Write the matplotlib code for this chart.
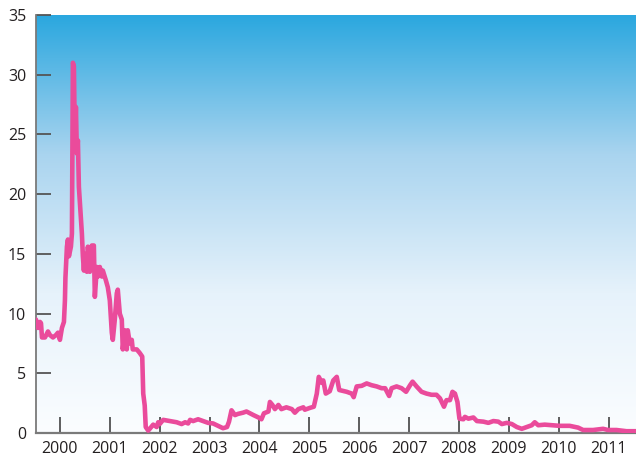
import numpy as np
import matplotlib
matplotlib.use("Agg")
import matplotlib.pyplot as plt
from matplotlib.colors import LinearSegmentedColormap

plt.rcParams['font.family'] = ['Open Sans', 'DejaVu Sans']

# decimal years and values
years = [1999.52, 1999.56, 1999.60, 1999.62, 1999.64, 1999.70, 1999.76, 1999.80, 1999.86, 1999.92,
         1999.96, 2000.00, 2000.04, 2000.08, 2000.10, 2000.11, 2000.12, 2000.14, 2000.16, 2000.18,
         2000.22, 2000.24, 2000.26, 2000.28, 2000.30, 2000.32, 2000.34, 2000.36, 2000.38, 2000.44,
         2000.46, 2000.48, 2000.50, 2000.54, 2000.56, 2000.60, 2000.64, 2000.68, 2000.70, 2000.74,
         2000.76, 2000.80, 2000.84, 2000.86, 2000.92, 2000.96, 2001.00, 2001.04, 2001.06, 2001.10,
         2001.14, 2001.16, 2001.20, 2001.24, 2001.26, 2001.30, 2001.34, 2001.36, 2001.40, 2001.44,
         2001.46, 2001.54, 2001.60, 2001.65, 2001.67, 2001.70, 2001.72, 2001.77, 2001.87, 2001.94,
         2001.97, 2002.00, 2002.07, 2002.21, 2002.34, 2002.44, 2002.51, 2002.57, 2002.61, 2002.67,
         2002.77, 2002.87, 2002.97, 2003.07, 2003.17, 2003.27, 2003.35, 2003.39, 2003.44, 2003.51,
         2003.57, 2003.67, 2003.74, 2003.88, 2003.98, 2004.04, 2004.09, 2004.18, 2004.21, 2004.26,
         2004.31, 2004.38, 2004.44, 2004.54, 2004.65, 2004.71, 2004.78, 2004.88, 2004.91, 2005.01,
         2005.09, 2005.15, 2005.19, 2005.25, 2005.28, 2005.33, 2005.41, 2005.48, 2005.55, 2005.60,
         2005.75, 2005.85, 2005.89, 2005.95, 2006.05, 2006.15, 2006.25, 2006.35, 2006.45, 2006.52,
         2006.60, 2006.65, 2006.75, 2006.85, 2006.94, 2007.02, 2007.07, 2007.15, 2007.25, 2007.35,
         2007.45, 2007.55, 2007.62, 2007.70, 2007.75, 2007.82, 2007.87, 2007.92, 2007.97, 2008.01,
         2008.09, 2008.12, 2008.19, 2008.29, 2008.36, 2008.49, 2008.59, 2008.69, 2008.79, 2008.86,
         2008.96, 2009.06, 2009.16, 2009.26, 2009.36, 2009.46, 2009.52, 2009.59, 2009.72, 2009.86,
         2010.02, 2010.22, 2010.39, 2010.49, 2010.69, 2010.89, 2010.99, 2011.16, 2011.36, 2011.55]

values = [9.5, 8.8, 9.3, 9.2, 8.0, 8.0, 8.5, 8.2, 8.0, 8.2,
          8.4, 7.8, 8.8, 9.3, 11.1, 13.0, 13.9, 15.6, 16.2, 14.8,
          15.6, 16.7, 31.0, 30.7, 24.0, 27.3, 23.4, 24.5, 20.6, 16.7,
          14.8, 13.6, 15.0, 13.5, 15.6, 13.5, 15.7, 15.7, 11.4, 13.9,
          13.1, 13.9, 13.1, 13.6, 12.8, 12.2, 11.1, 8.4, 7.8, 9.5,
          11.7, 12.0, 10.0, 9.5, 7.0, 8.6, 7.0, 8.6, 7.5, 7.8,
          7.0, 7.0, 6.7, 6.4, 3.3, 2.3, 0.5, 0.2, 0.7, 0.5,
          0.9, 0.75, 1.1, 1.0, 0.9, 0.75, 0.9, 0.8, 1.1, 1.0,
          1.15, 1.0, 0.85, 0.8, 0.6, 0.4, 0.5, 0.95, 1.9, 1.5,
          1.6, 1.7, 1.8, 1.5, 1.3, 1.15, 1.65, 1.8, 2.6, 2.35,
          2.0, 2.35, 2.0, 2.15, 2.0, 1.7, 2.0, 2.15, 1.95, 2.1,
          2.2, 3.3, 4.7, 4.2, 4.4, 3.3, 3.5, 4.4, 4.7, 3.6,
          3.45, 3.3, 3.0, 3.9, 3.95, 4.15, 4.0, 3.9, 3.75, 3.75,
          3.1, 3.75, 3.9, 3.75, 3.45, 4.0, 4.3, 3.9, 3.45, 3.3,
          3.2, 3.2, 2.9, 2.2, 2.75, 2.75, 3.45, 3.3, 2.6, 1.2,
          1.15, 1.35, 1.2, 1.3, 1.0, 0.95, 0.85, 1.0, 0.95, 0.75,
          0.85, 0.75, 0.5, 0.35, 0.5, 0.65, 0.9, 0.65, 0.7, 0.65,
          0.6, 0.6, 0.45, 0.25, 0.25, 0.35, 0.25, 0.25, 0.15, 0.15]

tick_years = list(range(2000, 2012))
tick_labels = [str(y) for y in tick_years]
y_ticks = [0, 5, 10, 15, 20, 25, 30, 35]

fig = plt.figure(figsize=(6.36, 4.61), dpi=100)
ax = fig.add_axes([36/636, 28/461, 600/636, 418/461])

# background gradient (white at bottom to sky blue at top)
cmap = LinearSegmentedColormap.from_list('bg', ['#fbfdff', '#e6f2fb', '#a9d4ef', '#2aa7df'],)
grad = np.linspace(0, 1, 256).reshape(-1, 1)
ax.imshow(grad, aspect='auto', cmap=cmap, origin='lower',
          extent=[0, 1, 0, 1], transform=ax.transAxes, zorder=0)

ax.plot(years, values, color='#ea4b9b', linewidth=3.3, solid_joinstyle='round',
        solid_capstyle='round', zorder=3)

ax.set_xlim(1999.52, 2011.55)
ax.set_ylim(0, 35)

ax.set_xticks(tick_years)
ax.set_xticklabels(tick_labels)
ax.set_yticks(y_ticks)

for s in ['top', 'right']:
    ax.spines[s].set_visible(False)
ax.spines['left'].set_color('#7a7a7a')
ax.spines['left'].set_linewidth(1.3)
ax.spines['bottom'].set_color('#7a7a7a')
ax.spines['bottom'].set_linewidth(1.6)

ax.tick_params(axis='y', direction='in', length=11, width=1.3, color='#555555',
               labelsize=11.5, labelcolor='#231f20', pad=7)
ax.tick_params(axis='x', direction='in', length=11.5, width=1.1, color='#333333',
               labelsize=11.5, labelcolor='#231f20', pad=6)

fig.savefig('out.png', dpi=100)
